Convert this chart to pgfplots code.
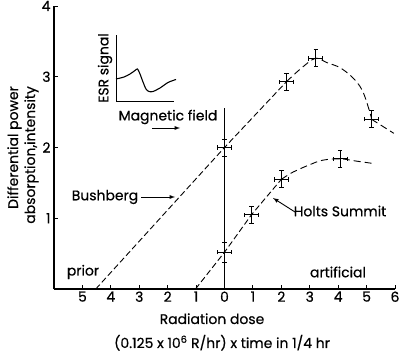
\documentclass[border=0pt]{standalone}
\usepackage{fontspec}
\setmainfont{Poppins}[FakeBold=0.5]
\usepackage{pgfplots}
\pgfplotsset{compat=1.18}
\begin{document}
\begin{tikzpicture}[font=\fontsize{14}{16}\selectfont]
\useasboundingbox (0,0) rectangle (400bp,356bp);
\begin{axis}[
  at={(54bp,67bp)}, anchor=south west,
  scale only axis, width=341bp, height=283bp,
  xmin=-6, xmax=6, ymin=0, ymax=4,
  axis lines=left,
  axis line style={-, line width=1.2pt},
  xtick={-5,-4,-3,-2,-1,0,1,2,3,4,5,6},
  xticklabels={5,4,3,2,1,0,1,2,3,4,5,6},
  ytick={1,2,3,4},
  tick align=inside,
  major tick length=4bp,
  tick style={line width=1pt, black},
  /pgf/number format/assume math mode=true,
  ticklabel style={font=\fontsize{14}{16}\selectfont},
  xticklabel style={yshift=1bp},
  clip=false,
]
% vertical line at zero dose
\addplot[black, line width=1pt] coordinates {(0,0) (0,2.56)};
% Bushberg
\addplot[black, line width=0.9pt, dash pattern=on 6bp off 3bp] coordinates {(-4.53,0) (0,2.0) (2.18,2.93)};
\addplot[black, line width=0.9pt, dash pattern=on 7bp off 4bp, smooth, tension=0.6] coordinates {(2.18,2.93) (2.7,3.12) (3.2,3.26) (3.6,3.20) (4.1,3.12) (4.6,2.95) (4.9,2.76) (5.17,2.42)};
\addplot[black, line width=0.9pt, dash pattern=on 7bp off 4bp] coordinates {(5.17,2.40) (5.96,2.2)};
% Holts Summit
\addplot[black, line width=0.9pt, dash pattern=on 6bp off 3bp] coordinates {(-1.02,0) (0,0.52) (0.95,1.05) (2.0,1.55)};
\addplot[black, line width=0.9pt, dash pattern=on 7bp off 4bp, smooth, tension=0.6] coordinates {(2.0,1.55) (2.4,1.65) (2.96,1.75) (3.45,1.82) (4.07,1.84) (4.6,1.81) (5.3,1.77)};
% data points with error bars
\addplot[only marks, mark=*, mark size=0.7pt, black,
  error bars/.cd, x dir=both, x explicit, y dir=both, y explicit,
  error bar style={line width=0.8pt},
  error mark=-,
  error mark options={rotate=90, mark size=2.2pt, line width=0.8pt, black}]
  coordinates {
  (0,2.0) +- (0.25,0.12)
  (2.18,2.93) +- (0.25,0.12)
  (3.21,3.26) +- (0.25,0.12)
  (5.17,2.40) +- (0.25,0.12)
  (0,0.52) +- (0.25,0.14)
  (0.95,1.05) +- (0.25,0.12)
  (2.0,1.55) +- (0.25,0.12)
  (4.07,1.84) +- (0.25,0.12)
  };
\end{axis}
% inset ESR signal
\begin{axis}[
  at={(116bp,254bp)}, anchor=south west,
  scale only axis, width=58bp, height=67bp,
  xmin=0, xmax=58, ymin=0, ymax=67,
  axis lines=left, axis line style={-, line width=1pt},
  xtick=\empty, ytick=\empty, clip=false,
]
\addplot[black, line width=1.1pt, smooth, tension=0.5] coordinates {
  (0,23) (8,25) (14,28) (19,31.5) (21.5,33) (24,28) (27,20) (30,13) (33,10.5) (37,10.5) (44,14) (52,19.5) (60,22.5)};
\end{axis}
\begin{scope}[x=1bp, y=-1bp, shift={(0,356bp)}]
  \node[rotate=90, anchor=base east, inner sep=0] at (18,86) {Differential power};
  \node[rotate=90, anchor=base east, inner sep=0] at (35,86) {absorption,intensity};
  \node[anchor=base, inner sep=0] at (212,324) {Radiation dose};
  \node[anchor=base, inner sep=0] at (222,348) {(0.125 x 10\textsuperscript{6} R/hr) x time in 1/4 hr};
  \node at (105,197) {Bushberg};
  \draw[-latex, line width=0.9pt] (141,197) -- (175,197);
  \node at (340,211) {Holts Summit};
  \draw[-latex, line width=0.9pt] (295,212) -- (273,198);
  \node at (83,272) {prior};
  \node at (338,272) {artificial};
  \node[rotate=90] at (105,68) {ESR signal};
  \node at (168,117) {Magnetic field};
  \draw[-latex, line width=0.9pt] (152,128) -- (180,128);
\end{scope}
\end{tikzpicture}
\end{document}
